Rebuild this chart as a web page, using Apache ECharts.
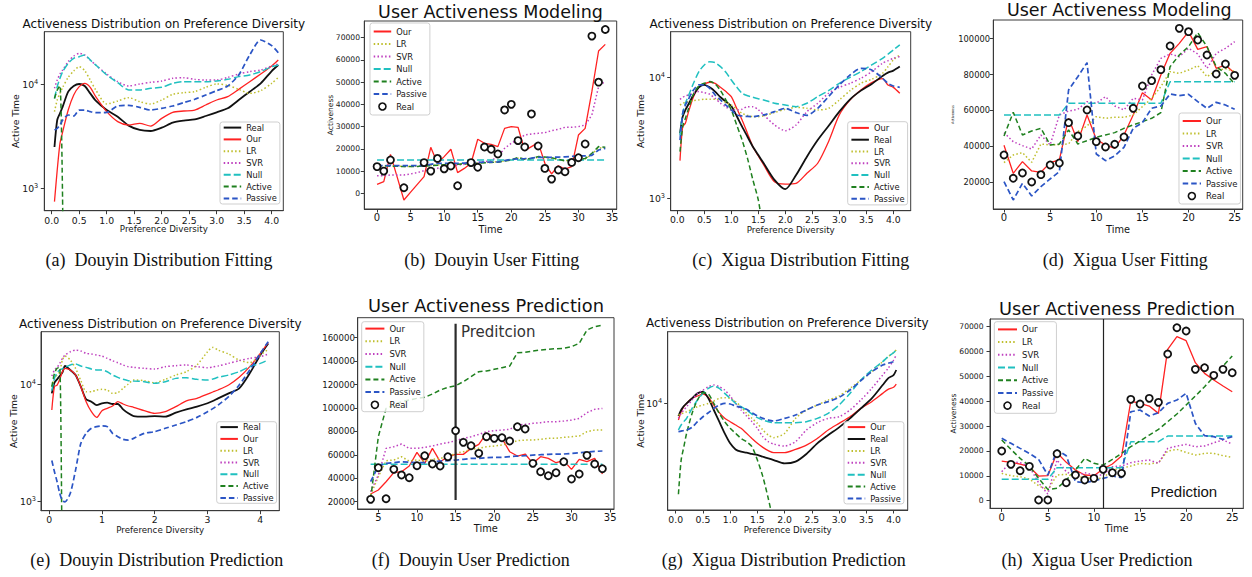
<!DOCTYPE html>
<html>
<head>
<meta charset="utf-8">
<title>Activeness distribution and user activeness modeling / prediction</title>
<script src="https://cdn.jsdelivr.net/npm/echarts@6.0.0/dist/echarts.min.js"></script>
<style>
html,body{margin:0;padding:0;background:#ffffff;}
#chart{width:1252px;height:577px;}
</style>
</head>
<body>
<div id="chart"></div>
<script>
// ================= tick values =================
const distTicksX  = [0, 0.5, 1, 1.5, 2, 2.5, 3, 3.5, 4];
const distTicksXE = [0, 1, 2, 3, 4];
const logTicks    = [1000, 10000];
const logTicksG   = [10000];
const ticksXB = [0, 5, 10, 15, 20, 25, 30, 35];
const ticksYB = [0, 10000, 20000, 30000, 40000, 50000, 60000, 70000];
const ticksXD = [0, 5, 10, 15, 20, 25];
const ticksYD = [20000, 40000, 60000, 80000, 100000];
const ticksXF = [5, 10, 15, 20, 25, 30, 35];
const ticksYF = [20000, 40000, 60000, 80000, 100000, 120000, 140000, 160000];
const ticksXH = [0, 5, 10, 15, 20, 25];
const ticksYH = [0, 10000, 20000, 30000, 40000, 50000, 60000, 70000];

// ================= (a) Douyin Distribution Fitting =================
const xsA      = [0.05,0.1,0.15,0.2,0.3,0.4,0.5,0.6,0.7,0.8,1.0,1.2,1.4,1.6,1.8,2.0,2.2,2.4,2.6,2.8,3.0,3.2,3.4,3.6,3.8,4.0,4.12];
const realA    = [2500,4540,5260,6100,8500,9640,10070,9640,8190,6970,5660,4890,4010,3640,3560,3830,4280,4480,4600,4960,5380,5880,7070,8500,10220,13430,15350];
const ourA     = [745,1500,2710,3510,5660,7890,9500,10220,9360,7610,5460,4380,4060,4220,3970,4710,5380,5540,5660,6330,7070,7610,8950,10600,12570,15000,17140];
const lrA      = [5460,7070,8190,9360,11670,13430,14790,13530,11010,8830,6470,6920,7450,6810,6470,7070,8010,8310,8500,9360,10070,9780,8950,8190,8690,10220,11670];
const svrA     = [9160,11010,12570,13740,16520,18720,19860,19140,17140,15350,12570,10600,9640,10070,10450,10760,11420,11590,11170,11010,11010,11670,12570,13240,13740,15000,15700];
const nullA    = [7330,9500,11420,13240,15920,17780,18450,19140,17140,15350,12300,10370,8830,8830,9160,9360,10220,10600,10600,10600,10760,11170,11860,12300,13240,14790,15350];
const activeA  = [7300,8800,9700,600,null,null,null,null,null,null,null,null,null,null,null,null,null,null,null,null,null,null,null,null,null,null,null];
const passiveA = [3640,3780,4060,4540,5070,4960,5660,5660,5460,5340,5380,6190,6280,6010,5660,5880,6190,6670,7180,7890,8690,9640,12300,19140,26690,23550,20140];

// ================= (b) Douyin User Fitting =================
const tB       = [0,1,2,3,4,5,6,7,8,9,10,11,12,13,14,15,16,17,18,19,20,21,22,23,24,25,26,27,28,29,30,31,32,33,34];
const realB    = [12000,10000,15000,null,2500,null,null,13800,10000,15700,11000,12300,3400,null,13800,11700,20800,19800,17700,37500,40000,23700,20800,35700,21300,11200,6400,10500,9700,13900,16000,22200,70700,50000,73700];
const ourB     = [4050,5250,17500,7300,-3000,500,4000,7500,20700,13500,16500,19800,9300,11200,13500,24300,22500,22000,21000,29200,30000,29700,19200,21000,22800,13500,8700,12400,10900,12000,26200,29200,45700,64000,67000];
const lrB      = [12300,12300,12300,12200,12100,12100,12200,12300,12500,12700,12900,13100,13200,13300,13500,13600,13800,14000,14200,14600,15100,15800,15400,15600,16200,16100,15800,15200,14700,14700,15200,15500,17500,20500,20300];
const svrB     = [7950,7950,8240,8240,8240,8690,9290,10190,10490,11240,11990,12290,12740,13040,13490,13790,14240,14690,16490,20240,22490,24280,26230,26680,26980,27280,28180,28780,29680,29680,29980,30730,35230,47970,50520];
const nullB    = [15000,15000,15000,15000,15000,15000,15000,15000,15000,15000,15000,15000,15000,15000,15000,15000,15000,15000,15000,15000,15000,15000,15000,15000,15000,15000,15000,15000,15000,15000,15000,15000,15000,15000,15000];
const activeB  = [12440,12440,12200,12200,12000,12000,12100,12300,12400,12600,12800,13000,13100,13200,13400,13500,13700,13900,14000,14500,15000,16200,15300,15700,16500,16300,16000,15300,14600,14600,15300,15600,18000,21000,20700];
const passiveB = [12440,12440,12440,12440,12440,12440,12440,12440,13000,13500,13500,13500,13500,13600,13800,13900,14000,14050,14090,14700,15290,15500,15600,15800,16190,16190,16190,16300,16400,16600,16790,16790,17100,19490,20240];

// ================= (c) Xigua Distribution Fitting =================
const xsC      = [0.05,0.1,0.15,0.2,0.3,0.4,0.5,0.6,0.7,0.8,0.9,1.0,1.1,1.2,1.3,1.4,1.5,1.6,1.8,2.0,2.2,2.4,2.6,2.8,3.0,3.2,3.4,3.6,3.8,3.9,4.0,4.12];
const ourC     = [2050,3910,4170,5040,6920,8260,8810,9100,8920,8260,7620,6920,5540,4440,3440,2670,2240,1890,1370,1310,1330,1610,1950,2940,4890,6500,7860,9040,9750,8650,8260,7380];
const realC    = [3440,4730,5370,5900,7140,8260,8650,8260,7620,6840,6290,5800,4790,3910,3230,2670,2280,1950,1420,1190,1560,2210,3030,3960,5200,6580,7760,8810,10260,10930,11350,12250];
const lrC      = [5900,6100,6200,6290,6410,6500,6580,6580,6580,6500,6200,5900,5450,5040,4850,4730,4730,4790,5110,5440,5650,5540,5370,5540,6500,7760,8920,9630,10790,12200,13900,15300];
const svrC     = [6580,6840,7000,7140,7380,7620,7470,7240,6700,6100,5700,5370,5370,5450,5720,5720,5400,4890,4040,3620,4040,5200,6100,7380,8260,8920,9810,11140,13060,13700,14360,14830];
const nullC    = [3330,5040,6100,6920,8920,11140,12650,13470,13220,12250,11000,9510,8300,7380,7050,6840,6650,6500,6100,5900,5720,6100,6920,7760,8920,10000,11140,12650,14360,15500,16830,18500];
const activeC  = [2430,3910,4580,5370,7280,8480,8920,9210,8810,7760,6500,5370,4040,3030,2140,1420,970,514,null,null,null,null,null,null,null,null,null,null,null,null,null,null];
const passiveC = [3030,5040,5900,6500,7860,8650,8650,8110,7140,6500,5900,5370,4890,4790,4750,4730,4800,4890,5200,5540,5110,4850,5540,6920,8650,10450,11860,11510,9810,8920,8480,8260];

// ================= (d) Xigua User Fitting =================
const tD       = [0,1,2,3,4,5,6,7,8,9,10,11,12,13,14,15,16,17,18,19,20,21,22,23,24,25];
const realD    = [35220,22230,25200,20190,24270,29650,30770,53220,45800,60280,42640,39680,41160,45240,61210,73640,76610,82740,95920,105750,103900,99260,90900,80320,85890,79580];
const ourD     = [40600,25010,31510,26310,25570,30950,32440,55640,42640,57490,43940,40790,38930,46360,57490,69930,65850,79770,91830,97400,103900,94060,95550,83480,85340,80700];
const lrD      = [30950,35220,36520,31140,41350,40790,41000,41350,48210,51370,56570,55640,56200,56200,57490,62130,66780,73300,81620,80700,82550,84970,78840,82180,83300,81800];
const svrD     = [47660,42640,40420,38560,46360,40790,57490,59720,60650,64900,63990,67700,62510,60280,66780,65850,79770,89050,91460,89980,94620,91460,83480,91830,94620,98330];
const nullD    = [57490,57490,57490,57490,57490,57490,57490,63990,63990,63990,63990,63990,63990,63990,63990,63990,63990,63990,76050,76050,76050,76050,76050,76050,76050,76050];
const activeD  = [45800,58980,46360,48580,50070,40790,41350,49140,41350,43200,45060,46360,47660,50070,51930,53780,55640,58790,84410,90900,95550,103340,95550,84410,80700,74760];
const passiveD = [20370,10160,19440,12390,17590,21860,25940,71410,78840,86640,35780,32070,34660,39490,50070,53220,61210,62510,69190,68260,69000,64920,61210,64550,63060,60650];

// ================= (e) Douyin Distribution Prediction =================
const xsE      = [0.05,0.1,0.15,0.2,0.25,0.3,0.4,0.5,0.6,0.7,0.8,0.9,1.0,1.1,1.2,1.3,1.4,1.5,1.6,1.8,2.0,2.2,2.4,2.6,2.8,3.0,3.1,3.2,3.4,3.6,3.8,4.0,4.15];
const realE    = [8380,10330,11040,11780,12580,14350,13260,12020,9550,7450,7110,6650,6890,6970,6790,6790,6110,5650,5360,5300,5360,5300,5730,6110,6440,6890,7200,7590,8380,9240,12420,17820,22390];
const ourE     = [6040,9550,9870,11040,12830,13700,13260,12020,9550,7110,5840,5220,5960,6240,6530,7110,6790,6530,6360,5960,5650,5840,6440,7210,7590,8260,8600,8950,9870,11480,14160,18400,22700];
const lrE      = [9550,11250,12020,12830,16140,17460,16140,13700,10750,8660,8660,8950,9060,8950,8380,8490,9240,10070,10890,10750,10330,11040,12020,12830,14630,19010,20700,19650,18170,16140,15310,17820,19920];
const svrE     = [11780,13260,13970,15110,16680,17820,19010,19650,19270,18400,18170,17820,17460,16680,15930,15310,14630,14160,13970,13700,13520,14160,14450,14630,14160,13870,14100,14350,15110,15930,16680,17220,18170];
const nullE    = [8830,11250,12580,13260,13600,13970,14630,14930,14350,13970,13520,13260,13260,12830,12020,11480,11040,10750,10680,10540,10200,10540,11250,11400,11040,10890,11100,11480,12020,12830,14160,15110,16140];
const activeE  = [9550,12420,13700,13970,100,null,null,null,null,null,null,null,null,null,null,null,null,null,null,null,null,null,null,null,null,null,null,null,null,null,null,null,null];
const passiveE = [2230,1790,1470,1170,1010,990,1170,1850,3130,3810,4210,4350,4410,4350,3810,3570,3390,3340,3450,3810,3940,4210,4490,4800,5220,5840,6200,6650,7850,9870,13260,18400,23170];

// ================= (f) Douyin User Prediction =================
const tF       = [4,5,6,7,8,9,10,11,12,13,14,15,16,17,18,19,20,21,22,23,24,25,26,27,28,29,30,31,32,33,34];
const realF    = [21990,49030,22560,47600,42770,40490,50730,59270,52160,50450,58420,80620,70650,67810,61260,75490,74070,74640,71790,84030,82040,52730,45610,42200,44760,54150,39350,43620,59560,52160,48170];
const ourF     = [26550,29960,37070,44760,45610,50450,62120,52730,65530,54150,58420,60410,60410,65530,68950,78340,75490,74070,62690,58990,60690,52730,58420,57000,53300,55000,47600,56140,54150,57000,43620];
const lrF      = [25690,41340,55000,55570,58420,54720,55570,54720,56140,57000,58420,61260,62690,64680,65530,66950,67520,68380,69800,72080,72650,72650,73220,74070,74070,74920,75490,76060,79760,81180,81180];
const svrF     = [28540,42770,65530,66950,69230,65530,65530,66390,67520,69230,70370,72080,74070,75490,77480,79760,80620,81180,81750,85450,86020,86870,87440,88300,88300,88870,89720,91140,95980,98830,99630];
const nullF    = [52000,52000,52000,52000,52000,52000,52000,52000,52000,52000,52000,52000,52000,52000,52000,52000,52000,52000,52000,52000,52000,52000,52000,52000,52000,52000,52000,52000,52000,52000,52000];
const activeF  = [22000,75490,99680,102530,105370,106800,108220,109070,111920,115330,117610,119030,122450,126710,130990,131550,132980,134400,135820,147210,147490,148630,149480,150050,150620,150900,152330,155180,166560,169400,170820];
const passiveF = [37070,50450,52730,53300,54150,53700,53300,53300,54150,54720,55000,55570,56140,57000,57000,57560,57850,57850,58420,58990,59270,59840,60120,60410,60690,60690,61260,61830,62400,62970,63260];
const predLineF = [[15, 21400], [15, 172000]];

// ================= (g) Xigua Distribution Prediction =================
const xsG      = [0.05,0.1,0.15,0.2,0.3,0.4,0.5,0.6,0.7,0.8,0.9,1.0,1.1,1.2,1.3,1.4,1.5,1.6,1.7,1.8,2.0,2.2,2.4,2.6,2.8,3.0,3.2,3.4,3.6,3.8,3.9,4.0,4.05];
const ourG     = [7780,8820,9510,10000,10780,11170,11510,10940,9750,8690,7980,7590,7220,6870,6370,5900,5480,5160,4910,4760,4760,5000,5340,5900,6700,7400,8180,9270,10260,11620,12350,12730,13370];
const realG    = [8270,9050,9610,10000,10780,11620,11920,10780,9050,7590,6370,5480,5000,4830,4760,4670,4600,4480,4370,4260,4050,4160,4670,5480,6210,6970,7980,9270,10780,13180,14560,15310,16520];
const lrG      = [8390,8520,8700,8820,9140,9510,9750,10000,10360,10780,10890,10780,10260,9510,8600,7980,7400,6700,6210,5970,6370,7980,9050,9750,10520,11170,12530,14210,16110,18720,20180,21430,22320];
const svrG     = [7980,8600,9050,9510,10520,11620,12220,12850,13180,12850,12220,11170,10000,9050,8270,7590,6870,6060,5620,5420,5260,5620,6700,7480,7980,8180,9050,10520,12530,15310,16940,19190,20700];
const nullG    = [6700,7220,7600,7980,9270,10520,11620,12530,12970,12530,11620,10780,10000,9510,9050,8520,8060,7780,7590,7480,7480,7480,7590,7980,8600,9750,11620,14210,16520,18720,20180,21430,22320];
const activeG  = [2550,4260,5210,6370,8600,10520,11740,11510,10000,8600,7590,6870,6370,5900,5620,5210,4260,3320,2390,1640,null,null,null,null,null,null,null,null,null,null,null,null,null];
const passiveG = [6530,6590,6650,6700,6970,7590,8180,8690,9270,9750,10000,9900,9610,9420,9140,8690,8270,7980,7780,7670,7980,8390,9050,9750,10260,10940,12220,14060,16110,17810,18280,18720,18920];

// ================= (h) Xigua User Prediction =================
const tH       = [0,1,2,3,4,5,6,7,8,9,10,11,12,13,14,15,16,17,18,19,20,21,22,23,24,25];
const realH    = [19980,14620,12070,13810,270,270,18910,7240,10330,8310,8980,12610,11260,11000,40770,38890,41170,39560,59000,69600,68260,52840,53510,50420,52840,51500];
const ourH     = [15960,15420,14750,13680,9920,10060,19310,15420,12340,10330,10060,12740,14750,17970,40100,39160,38090,35130,60880,65980,64370,55520,51230,48540,46130,43850];
const lrH      = [11000,10060,9660,8720,6030,4290,10330,10590,9660,9390,8580,9250,12340,13010,13950,15020,14750,15290,19980,20650,19440,18370,19040,19040,18100,17430];
const svrH     = [11670,15690,15290,13680,7240,2680,16360,11670,9660,11260,10330,10330,13680,13950,15290,15960,16360,15020,21050,21990,22660,21720,21990,23330,24410,22800];
const nullH    = [8580,8580,8580,8580,8580,8580,13280,13280,13280,13280,13280,13280,13280,13280,23740,23740,23740,23740,26020,26020,26020,26020,26020,26020,26020,26020];
const activeH  = [24410,20650,17030,13950,8980,4560,4960,8310,12340,17030,15020,14350,16630,19040,21720,24000,26420,28700,31780,34870,38490,42110,45860,49890,54180,58200];
const passiveH = [25080,23070,21050,19040,16630,10330,20380,18100,7640,7240,8050,8980,9920,9250,35800,36480,34060,35400,39160,40500,43180,31110,26150,25750,24670,25750];
const predStartH = 11;

// ================= styles =================
const FONT = 'DejaVu Sans';
const AXC = '#3a3a3a';
const TXC = '#161616';
const STY = {
  Real:    {color: '#111111', width: 1.8, type: 'solid'},
  Our:     {color: '#ff2222', width: 1.3, type: 'solid'},
  LR:      {color: '#bfbf2e', width: 1.5, type: [1.5, 2.3]},
  SVR:     {color: '#bf40bf', width: 1.5, type: [1.5, 2.3]},
  Null:    {color: '#20c0c0', width: 1.5, type: [7, 3]},
  Active:  {color: '#1f801f', width: 1.5, type: [5, 3]},
  Passive: {color: '#2b55c5', width: 1.7, type: [5.5, 3]}
};
const ORD1 = ['Real', 'Our', 'LR', 'SVR', 'Null', 'Active', 'Passive'];
const ORD2 = ['Our', 'Real', 'LR', 'SVR', 'Null', 'Active', 'Passive'];
const ORDU = ['Our', 'LR', 'SVR', 'Null', 'Active', 'Passive', 'Real'];

const panels = [
  {g:[44.3,31.7,239,179], xr:[-0.135,4.211], yr:[610,32060], log:true, xt:distTicksX, yt:logTicks, xf:'f1',
   xls:9.3, xm:5, ym:6, xn:'Preference Diversity', xg:14, xns:8.7, yn:'Active Time', yg:24, yns:9.2,
   xs:xsA, ord:ORD1, d:{Real:realA, Our:ourA, LR:lrA, SVR:svrA, Null:nullA, Active:activeA, Passive:passiveA},
   leg:{l:220, t:122, gap:1.8, pv:0.6, w:17.5, fs:8.3}, smooth:true, user:false},
  {g:[364.3,21,252.4,188], xr:[-1.9,35.7], yr:[-7060,77500], log:false, xt:ticksXB, yt:ticksYB, xf:'i',
   xls:10, yls:7.6, xm:3.5, ym:4.3, xn:'Time', xg:15.5, xns:9.8, yn:'Activeness', yg:30, yns:7.5,
   xs:tB, ord:ORDU, d:{Real:realB, Our:ourB, LR:lrB, SVR:svrB, Null:nullB, Active:activeB, Passive:passiveB},
   leg:{l:370, t:23, gap:2.5, pv:3.5, w:17.5, fs:8.3}, smooth:false, user:true},
  {g:[670.7,31.7,240,179], xr:[-0.122,4.322], yr:[791,23800], log:true, xt:distTicksX, yt:logTicks, xf:'f1',
   xls:9.3, xm:4.5, ym:5.7, xn:'Preference Diversity', xg:14.3, xns:8.7, yn:'Active Time', yg:26, yns:9.2,
   xs:xsC, ord:ORD2, d:{Real:realC, Our:ourC, LR:lrC, SVR:svrC, Null:nullC, Active:activeC, Passive:passiveC},
   leg:{l:847.7, t:121.7, gap:1.8, pv:1.2, w:17.5, fs:8.3}, smooth:true, user:false},
  {g:[993.3,20,249.4,189], xr:[-1.16,25.87], yr:[5130,110400], log:false, xt:ticksXD, yt:ticksYD, xf:'i',
   xls:10, yls:8.3, xm:3.3, ym:3.3, xn:'Time', xg:15.5, xns:9.8, yn:'Activeness', yg:38, yns:3.5,
   xs:tD, ord:ORDU, d:{Real:realD, Our:ourD, LR:lrD, SVR:svrD, Null:nullD, Active:activeD, Passive:passiveD},
   leg:{l:1179, t:113, gap:2.5, pv:3, w:18.3, fs:8.5}, smooth:false, user:true},
  {g:[41,331.7,238.3,179], xr:[-0.155,4.36], yr:[831,28200], log:true, xt:distTicksXE, yt:logTicks, xf:'i',
   xls:9.3, xm:4.5, ym:5, xn:'Preference Diversity', xg:14.3, xns:8.7, yn:'Active Time', yg:23, yns:9.2,
   xs:xsE, ord:ORD1, d:{Real:realE, Our:ourE, LR:lrE, SVR:svrE, Null:nullE, Active:activeE, Passive:passiveE},
   leg:{l:216.7, t:421.7, gap:1.8, pv:0.4, w:17.5, fs:8.3}, smooth:true, user:false},
  {g:[357.7,317.7,256.3,191.3], xr:[2.33,35.5], yr:[13770,177070], log:false, xt:ticksXF, yt:ticksYF, xf:'i',
   xls:10, yls:8.6, xm:3.3, ym:2.7, xn:'Time', xg:14.8, xns:9.8, yn:'', yg:30, yns:7.5,
   xs:tF, ord:ORDU, d:{Real:realF, Our:ourF, LR:lrF, SVR:svrF, Null:nullF, Active:activeF, Passive:passiveF},
   leg:{l:361.7, t:321.7, gap:2.7, pv:1.9, w:19, fs:8.5}, smooth:false, user:true},
  {g:[667.7,331.7,240,178.3], xr:[-0.147,4.26], yr:[2010,29400], log:true, xt:distTicksX, yt:logTicksG, xf:'f1',
   xls:9.3, xm:4.5, ym:5.5, xn:'Preference Diversity', xg:15, xns:8.7, yn:'Active Time', yg:23, yns:9.2,
   xs:xsG, ord:ORD2, d:{Real:realG, Our:ourG, LR:lrG, SVR:svrG, Null:nullG, Active:activeG, Passive:passiveG},
   leg:{l:844, t:421.7, gap:1.9, pv:0.4, w:17.5, fs:8.3}, smooth:true, user:false},
  {g:[990,319,253.3,189.3], xr:[-1.27,26.2], yr:[-3060,73100], log:false, xt:ticksXH, yt:ticksYH, xf:'i',
   xls:10, yls:7.6, xm:4, ym:6.5, xn:'Time', xg:15.5, xns:9.8, yn:'Activeness', yg:32.7, yns:7.4,
   xs:tH, ord:ORDU, d:{Real:realH, Our:ourH, LR:lrH, SVR:svrH, Null:nullH, Active:activeH, Passive:passiveH},
   leg:{l:994.3, t:321.7, gap:2.7, pv:2.7, w:19, fs:8.5}, smooth:false, user:true}
];

const titles = [
  ['Activeness Distribution on Preference Diversity', 163.8, 24, 12],
  ['User Activeness Modeling', 490.5, 12, 17.5],
  ['Activeness Distribution on Preference Diversity', 790.8, 24, 12],
  ['User Activeness Modeling', 1119.3, 10.3, 17.5],
  ['Activeness Distribution on Preference Diversity', 160.3, 324.3, 12],
  ['User Activeness Prediction', 486, 305.7, 17.8],
  ['Activeness Distribution on Preference Diversity', 787.3, 323.3, 12],
  ['User Activeness Prediction', 1117, 308.3, 17.8]
];
const captions = [
  ['(a)  Douyin Distribution Fitting', 159, 259.5],
  ['(b)  Douyin User Fitting', 491.7, 259.5],
  ['(c)  Xigua Distribution Fitting', 800.8, 259.5],
  ['(d)  Xigua User Fitting', 1125.3, 259.5],
  ['(e)  Douyin Distribution Prediction', 156.7, 559.5],
  ['(f)  Douyin User Prediction', 470.8, 559.5],
  ['(g)  Xigua Distribution Prediction', 783.7, 559.5],
  ['(h)  Xigua User Prediction', 1097, 559.5]
];

// ================= build option =================
const option = {
  animation: false,
  backgroundColor: '#ffffff',
  textStyle: {fontFamily: FONT},
  grid: [], xAxis: [], yAxis: [], series: [], legend: [],
  graphic: {elements: []}
};

function logFmt(v) {
  const e = Math.round(Math.log10(v));
  return '{b|10}{s|' + e + '}';
}

panels.forEach(function (p, i) {
  option.grid.push({
    left: p.g[0], top: p.g[1], width: p.g[2], height: p.g[3],
    show: true, borderColor: AXC, borderWidth: 1, backgroundColor: 'transparent',
    containLabel: false, outerBoundsMode: 'none'
  });
  option.xAxis.push({
    type: 'value', gridIndex: i, min: p.xr[0], max: p.xr[1],
    axisLine: {show: true, onZero: false, lineStyle: {color: AXC, width: 1}},
    axisTick: {show: true, length: 3.5, inside: false, lineStyle: {color: AXC, width: 1}, customValues: p.xt},
    axisLabel: {customValues: p.xt, fontSize: p.xls, color: TXC, margin: p.xm, fontFamily: FONT,
      formatter: p.xf === 'f1' ? function (v) { return v.toFixed(1); } : function (v) { return String(Math.round(v)); }},
    splitLine: {show: false},
    name: p.xn, nameLocation: 'middle', nameGap: p.xg, nameMoveOverlap: false,
    nameTextStyle: {fontSize: p.xns, color: TXC, fontFamily: FONT}
  });
  const ya = {
    type: p.log ? 'log' : 'value', gridIndex: i, min: p.yr[0], max: p.yr[1],
    axisLine: {show: true, onZero: false, lineStyle: {color: AXC, width: 1}},
    axisTick: {show: true, length: 3.5, inside: false, lineStyle: {color: AXC, width: 1}, customValues: p.yt},
    splitLine: {show: false},
    name: p.yn, nameLocation: 'middle', nameGap: p.yg, nameMoveOverlap: false,
    nameTextStyle: {fontSize: p.yns, color: TXC, fontFamily: FONT}
  };
  if (p.log) {
    ya.logBase = 10;
    ya.axisLabel = {customValues: p.yt, margin: p.ym, color: TXC, fontFamily: FONT, formatter: logFmt,
      rich: {
        b: {fontSize: 9.3, lineHeight: 12, color: TXC, fontFamily: FONT},
        s: {fontSize: 6.6, lineHeight: 7, verticalAlign: 'top', color: TXC, fontFamily: FONT}
      }};
  } else {
    ya.axisLabel = {customValues: p.yt, margin: p.ym, fontSize: p.yls, color: TXC, fontFamily: FONT,
      formatter: function (v) { return String(Math.round(v)); }};
  }
  option.yAxis.push(ya);

  p.ord.forEach(function (nm) {
    const ys = p.d[nm];
    const pts = [];
    p.xs.forEach(function (x, j) { if (ys[j] !== null && ys[j] !== undefined) pts.push([x, ys[j]]); });
    if (nm === 'Real' && p.user) {
      option.series.push({
        type: 'scatter', name: nm, xAxisIndex: i, yAxisIndex: i, data: pts,
        symbol: 'circle', symbolSize: 7, z: 5, silent: true,
        itemStyle: {color: '#ffffff', borderColor: '#111111', borderWidth: 1.8, opacity: 1}
      });
    } else {
      const s = STY[nm];
      option.series.push({
        type: 'line', name: nm, xAxisIndex: i, yAxisIndex: i, data: pts,
        symbol: 'none', showSymbol: false, smooth: p.smooth ? 0.25 : false, silent: true,
        lineStyle: {color: s.color, width: s.width, type: s.type},
        itemStyle: {color: s.color}, emphasis: {disabled: true}
      });
    }
  });

  option.legend.push({
    orient: 'vertical', left: p.leg.l, top: p.leg.t,
    itemGap: p.leg.gap, itemWidth: p.leg.w, itemHeight: 7,
    padding: [p.leg.pv, 3, p.leg.pv, 2.7],
    backgroundColor: 'rgba(255,255,255,0.8)', borderColor: '#cfcfcf', borderWidth: 1, borderRadius: 2.5,
    selectedMode: false,
    itemStyle: {opacity: 0},
    textStyle: {fontSize: p.leg.fs, lineHeight: 10, color: TXC, fontFamily: FONT},
    data: p.ord.map(function (nm) {
      if (nm === 'Real' && p.user) {
        return {name: nm, icon: 'circle', itemStyle: {color: '#ffffff', borderColor: '#111111', borderWidth: 1.6, opacity: 1}};
      }
      return {name: nm};
    })
  });
});

// vertical "prediction start" line in (f)
option.series.push({
  type: 'line', name: 'start-f', xAxisIndex: 5, yAxisIndex: 5, data: predLineF,
  symbol: 'none', silent: true, lineStyle: {color: '#2b2b2b', width: 2.2}, itemStyle: {color: '#2b2b2b'}, z: 3
});
// vertical "prediction start" line in (h)
option.series.push({
  type: 'line', name: 'start-h', xAxisIndex: 7, yAxisIndex: 7, data: [], silent: true,
  markLine: {symbol: 'none', silent: true, label: {show: false}, animation: false,
    lineStyle: {color: '#222222', width: 1.2, type: 'solid'}, data: [{xAxis: predStartH}]}
});

titles.forEach(function (t) {
  option.graphic.elements.push({type: 'text', x: t[1], y: t[2], silent: true,
    style: {text: t[0], fill: '#111111', font: t[3] + 'px "DejaVu Sans"', textAlign: 'center', textVerticalAlign: 'middle', align: 'center', verticalAlign: 'middle'}});
});
captions.forEach(function (t) {
  option.graphic.elements.push({type: 'text', x: t[1], y: t[2], silent: true,
    style: {text: t[0], fill: '#111111', font: '18px "Liberation Serif"', textAlign: 'center', textVerticalAlign: 'middle', align: 'center', verticalAlign: 'middle'}});
});
option.graphic.elements.push({type: 'text', x: 461, y: 331.7, silent: true,
  style: {text: 'Preditcion', fill: '#333333', font: '15px "DejaVu Sans"', textAlign: 'left', textVerticalAlign: 'middle', align: 'left', verticalAlign: 'middle'}});
option.graphic.elements.push({type: 'text', x: 1150.5, y: 491, silent: true,
  style: {text: 'Prediction', fill: '#111111', font: '15px "Liberation Sans"', textAlign: 'left', textVerticalAlign: 'middle', align: 'left', verticalAlign: 'middle'}});

const chart = echarts.init(document.getElementById('chart'), null, {renderer: 'svg', width: 1252, height: 577});
chart.setOption(option);
</script>
</body>
</html>
